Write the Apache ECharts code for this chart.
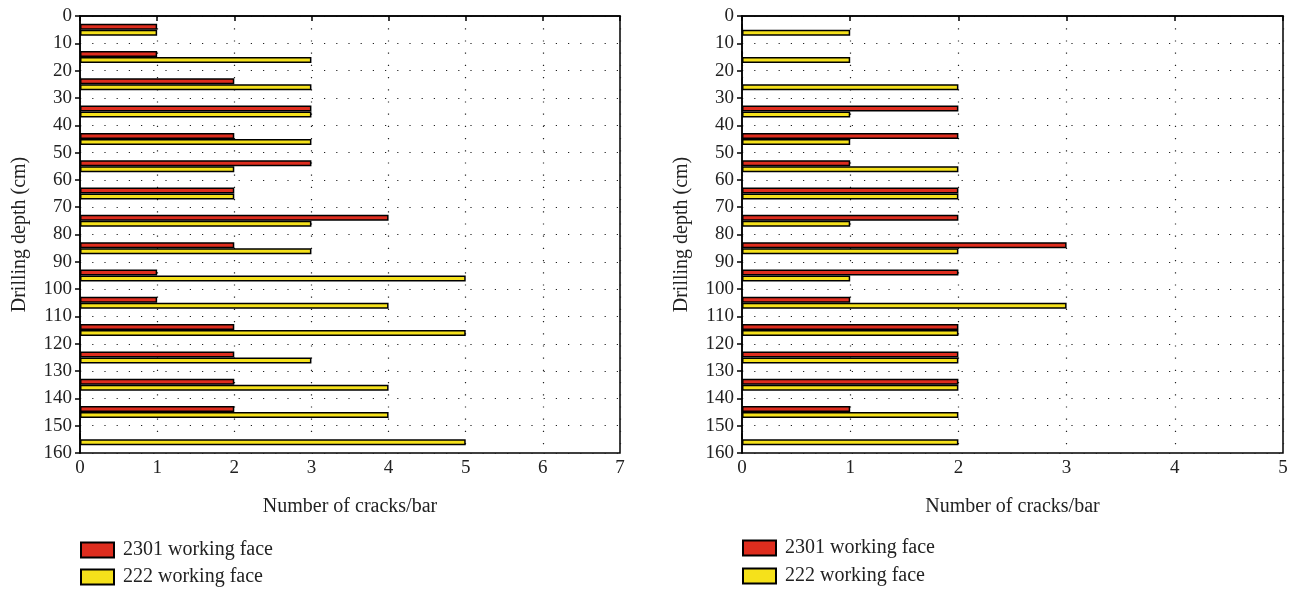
<!DOCTYPE html>
<html>
<head>
<meta charset="utf-8">
<script src="https://cdn.jsdelivr.net/npm/echarts@6/dist/echarts.min.js"></script>
<style>
  html, body { margin: 0; padding: 0; background: #fff; }
  #chart { width: 1298px; height: 589px; }
</style>
</head>
<body>
<div id="chart"></div>
<script>
// drilling depth of each bar pair (cm)
const depths = ['5', '15', '25', '35', '45', '55', '65', '75', '85', '95', '105', '115', '125', '135', '145', '155'];
// left panel
const leftFace2301 = [1, 1, 2, 3, 2, 3, 2, 4, 2, 1, 1, 2, 2, 2, 2, 0];
const leftFace222 = [1, 3, 3, 3, 3, 2, 2, 3, 3, 5, 4, 5, 3, 4, 4, 5];
// right panel
const rightFace2301 = [0, 0, 0, 2, 2, 1, 2, 2, 3, 2, 1, 2, 2, 2, 1, 0];
const rightFace222 = [1, 1, 2, 1, 1, 2, 2, 1, 2, 1, 3, 2, 2, 2, 2, 2];

const seriesNames = ['2301 working face', '222 working face'];
const colors = ['#de2d1e', '#f5e11b'];
const font = 'Liberation Serif';

const dotted = { color: '#222', width: 1.2, type: [1.2, 11] };

function panelAxes(gi, xMax) {
	return {
		xAxis: {
			gridIndex: gi,
			type: 'value',
			min: 0,
			max: xMax,
			interval: 1,
			name: 'Number of cracks/bar',
			nameLocation: 'middle',
			nameGap: 44,
			nameTextStyle: { fontFamily: font, fontSize: 20, color: '#222' },
			axisLine: { show: true, lineStyle: { color: '#000', width: 1.5 } },
			axisTick: { show: true, length: 5, lineStyle: { color: '#000', width: 1.5 } },
			axisLabel: { fontFamily: font, fontSize: 19, color: '#222', margin: 6 },
			splitLine: { show: true, lineStyle: dotted }
		},
		yAxis: [
			{
				gridIndex: gi,
				type: 'category',
				data: depths,
				inverse: true,
				show: false
			},
			{
				gridIndex: gi,
				type: 'value',
				position: 'left',
				min: 0,
				max: 160,
				interval: 10,
				inverse: true,
				name: 'Drilling depth (cm)',
				nameLocation: 'middle',
				nameGap: 50,
				nameTextStyle: { fontFamily: font, fontSize: 20, color: '#222' },
				axisLine: { show: true, lineStyle: { color: '#000', width: 1.5 } },
				axisTick: { show: true, length: 5, lineStyle: { color: '#000', width: 1.5 } },
				axisLabel: { fontFamily: font, fontSize: 19, color: '#222', margin: 8 },
				splitLine: { show: true, lineStyle: dotted }
			}
		]
	};
}

function barSeries(name, color, data, gi) {
	return {
		name: name,
		type: 'bar',
		xAxisIndex: gi,
		yAxisIndex: gi * 2,
		data: data,
		barWidth: 6,
		barGap: '0%',
		itemStyle: { color: color, borderColor: '#000', borderWidth: 1.5 },
		emphasis: { disabled: true }
	};
}

const left = panelAxes(0, 7);
const right = panelAxes(1, 5);

// one legend block per entry so they stack like the original
function legendItem(name, x, y) {
	return {
		left: x,
		top: y,
		padding: 0,
		itemWidth: 33,
		itemHeight: 15,
		icon: 'rect',
		selectedMode: false,
		textStyle: { fontFamily: font, fontSize: 20, color: '#222', padding: [0, 0, 0, 4] },
		data: [name]
	};
}

const option = {
	animation: false,
	backgroundColor: '#fff',
	grid: [
		{ left: 80, top: 16, width: 540, height: 437, outerBoundsMode: 'none', show: true, borderColor: '#000', borderWidth: 1.5, backgroundColor: 'transparent' },
		{ left: 742, top: 16, width: 541, height: 437, outerBoundsMode: 'none', show: true, borderColor: '#000', borderWidth: 1.5, backgroundColor: 'transparent' }
	],
	legend: [
		legendItem(seriesNames[0], 80, 540),
		legendItem(seriesNames[1], 80, 567),
		legendItem(seriesNames[0], 742, 538),
		legendItem(seriesNames[1], 742, 566)
	],
	xAxis: [left.xAxis, right.xAxis],
	yAxis: [left.yAxis[0], left.yAxis[1], right.yAxis[0], right.yAxis[1]],
	series: [
		barSeries(seriesNames[0], colors[0], leftFace2301, 0),
		barSeries(seriesNames[1], colors[1], leftFace222, 0),
		barSeries(seriesNames[0], colors[0], rightFace2301, 1),
		barSeries(seriesNames[1], colors[1], rightFace222, 1)
	]
};

const chart = echarts.init(document.getElementById('chart'), null, { renderer: 'canvas' });
chart.setOption(option);
</script>
</body>
</html>
